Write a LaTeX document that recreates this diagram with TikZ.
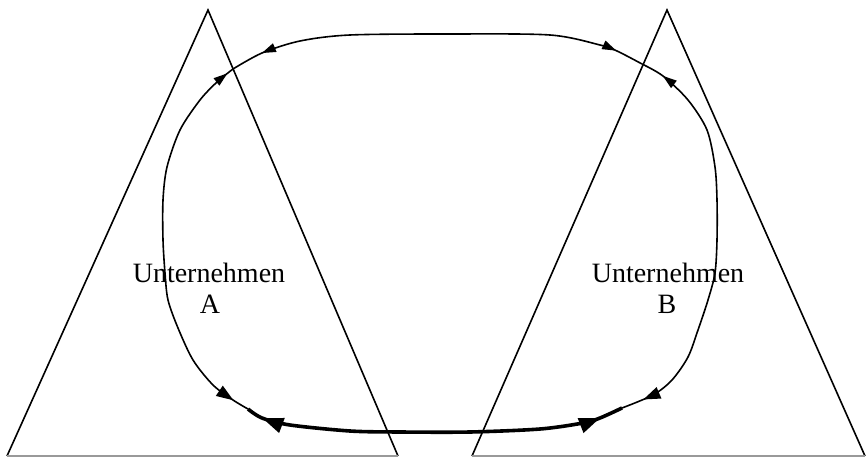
\documentclass[tikz,border=0pt]{standalone}
\usepackage{fontspec}
\setmainfont{Liberation Serif}
\usetikzlibrary{arrows.meta,decorations.markings}
\begin{document}
\begin{tikzpicture}[x=1pt,y=-1pt,
  tri/.style={line width=1.6pt,line join=miter},
  basel/.style={line width=1.3pt,draw=black!40},
  loopline/.style={line width=1.6pt},
  heavyloop/.style={line width=3.6pt},
  lbl/.style={font=\fontsize{28}{32}\selectfont,inner sep=0pt,anchor=base},
  smalltip/.tip={Triangle[length=14pt,width=9pt]},
  midtip/.tip={Triangle[length=17pt,width=12pt]},
  bigtip/.tip={Triangle[length=21pt,width=15pt]},
  tipmarks/.style n args={4}{postaction={decorate},decoration={markings,
     mark=at position #1 with {\arrowreversed{#3}},
     mark=at position #2 with {\arrow{#4}}}}
]
\useasboundingbox (0,0) rectangle (867,457);
% triangles
\coordinate (LA) at (208,10);
\coordinate (LL) at (7,456);
\coordinate (LR) at (398,456);
\coordinate (RA) at (667,10);
\coordinate (RL) at (472,456);
\coordinate (RR) at (865,456);
\draw[tri] (LL) -- (LA) -- (LR);
\draw[tri] (RL) -- (RA) -- (RR);
\draw[basel] (LL) -- (LR);
\draw[basel] (RL) -- (RR);
% junctions of the loop
\coordinate (J1) at (233,69);
\coordinate (J2) at (642,64);
\coordinate (J3) at (248,409);
\coordinate (J4) at (622,408);
% left
\draw[loopline,tipmarks={7pt}{-17pt}{smalltip}{midtip}]
  plot[smooth,tension=0.5] coordinates {(J1) (217,82) (200,100) (180,130) (167,167) (163,200) (163,240) (165,273) (168,300) (178,328) (193,360) (213,385) (233,400) (J3)};
% top
\draw[loopline,tipmarks={33pt}{-29pt}{smalltip}{smalltip}]
  plot[smooth,tension=0.5] coordinates {(J1) (262,53) (300,41) (350,35) (450,34) (550,35) (600,45) (617,51) (J2)};
% right
\draw[loopline,tipmarks={24pt}{-23pt}{smalltip}{midtip}]
  plot[smooth,tension=0.5] coordinates {(J2) (663,76) (688,100) (707,130) (715,167) (717,200) (717,240) (715,273) (708,300) (698,330) (688,357) (672,380) (653,395) (J4)};
% bottom
\draw[heavyloop,tipmarks={17pt}{-24pt}{bigtip}{bigtip}]
  plot[smooth,tension=0.5] coordinates {(J3) (262,418) (290,425) (350,431) (400,432) (470,432) (540,429) (583,423) (600,418) (J4)};
% labels
\node[lbl] (ua) at (209,282) {Unternehmen};
\node[lbl] (la) at (210,313) {A};
\node[lbl] (ub) at (668,282) {Unternehmen};
\node[lbl] (lb) at (667,313) {B};
\end{tikzpicture}
\end{document}
